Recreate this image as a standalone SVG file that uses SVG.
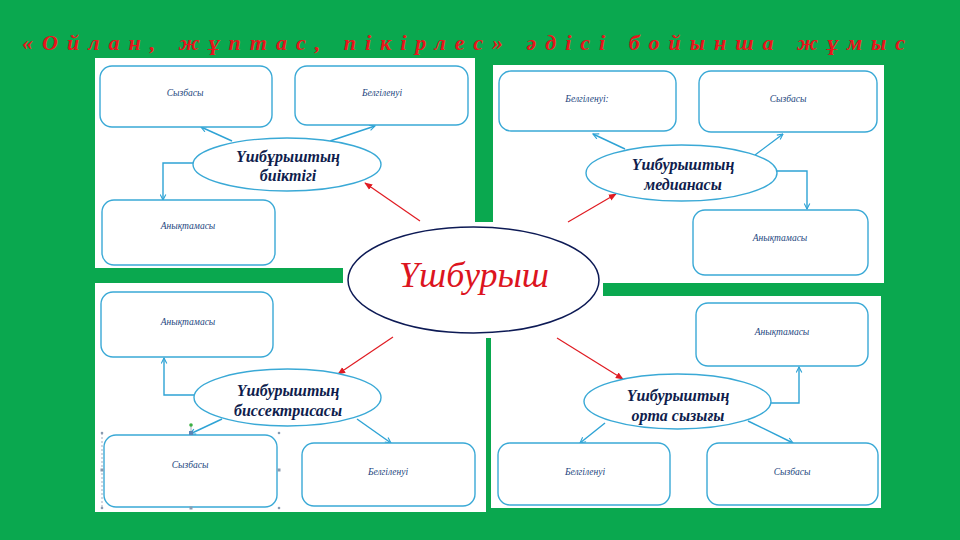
<svg xmlns="http://www.w3.org/2000/svg" width="960" height="540" viewBox="0 0 960 540">
<defs>
<style>
.panel{fill:#ffffff}
.box{fill:#ffffff;stroke:#3aa9d6;stroke-width:1.4}
.lbl{font-family:"Liberation Serif",serif;font-style:italic;font-size:9.5px;fill:#23467e;text-anchor:middle}
.oval{fill:#ffffff;stroke:#3aa9d6;stroke-width:1.4}
.otx{font-family:"Liberation Serif",serif;font-style:italic;font-weight:bold;font-size:16px;fill:#0f1d4d;text-anchor:middle}
.blue{fill:none;stroke:#2ea3d5;stroke-width:1.4;marker-end:url(#ab)}
.red{fill:none;stroke:#e01b22;stroke-width:1.2;marker-end:url(#ar)}
.hd{fill:#8a9bb0}
</style>
<marker id="ab" viewBox="0 0 10 10" refX="9" refY="5" markerWidth="7" markerHeight="7" orient="auto" markerUnits="userSpaceOnUse">
<path d="M1,1 L9,5 L1,9" fill="none" stroke="#2ea3d5" stroke-width="1.6"/>
</marker>
<marker id="ar" viewBox="0 0 10 10" refX="9" refY="5" markerWidth="8" markerHeight="8" orient="auto" markerUnits="userSpaceOnUse">
<path d="M0,1 L10,5 L0,9 Z" fill="#e01b22"/>
</marker>
</defs>
<rect width="960" height="540" fill="#0aa84f"/>
<text id="title" x="22" y="50" textLength="883" lengthAdjust="spacing" font-family="'Liberation Serif',serif" font-style="italic" font-weight="bold" font-size="22" fill="#e8141c">«Ойлан, жұптас, пікірлес» әдісі бойынша жұмыс</text>

<g id="panels">
<rect class="panel" x="95" y="58" width="380" height="210"/>
<rect class="panel" x="493" y="65" width="391" height="218"/>
<rect class="panel" x="95" y="283" width="391" height="229"/>
<rect class="panel" x="491" y="296" width="390" height="212"/>
<rect class="panel" x="343" y="222" width="260" height="116"/>
</g>

<g id="connectors">
<path class="blue" d="M232,141 L201,127"/>
<path class="blue" d="M330,141 L375,126"/>
<path class="blue" d="M193,163 L163,163 L163,200"/>
<path class="blue" d="M625,149 L593,134"/>
<path class="blue" d="M755,155 L783,134"/>
<path class="blue" d="M777,171 L807,171 L807,209"/>
<path class="blue" d="M194,395 L164,395 L164,358"/>
<path class="blue" d="M222,419 L190,434"/>
<path class="blue" d="M357,419 L391,443"/>
<path class="blue" d="M771,403 L799,403 L799,367"/>
<path class="blue" d="M605,423 L580,443"/>
<path class="blue" d="M748,421 L793,443"/>
<path class="red" d="M420,221 L365,183"/>
<path class="red" d="M568,222 L616,194"/>
<path class="red" d="M393,337 L338,374"/>
<path class="red" d="M557,338 L623,379"/>
</g>

<g id="tl-sizbasy"><rect class="box" x="100" y="66" width="172" height="61" rx="12"/><text class="lbl" x="185" y="96">Сызбасы</text></g>
<g id="tl-belgilenui"><rect class="box" x="295" y="66" width="173" height="59" rx="12"/><text class="lbl" x="382" y="96">Белгіленуі</text></g>
<g id="tl-anyktamasy"><rect class="box" x="102" y="200" width="173" height="65" rx="12"/><text class="lbl" x="188" y="229">Анықтамасы</text></g>
<g id="tl-oval"><ellipse class="oval" cx="287" cy="164.5" rx="94" ry="26.5"/><text class="otx" x="288" y="162">Үшбұрыштың</text><text class="otx" x="288" y="181">биіктігі</text></g>

<g id="tr-belgilenui"><rect class="box" x="499" y="71" width="177" height="60" rx="12"/><text class="lbl" x="587" y="102">Белгіленуі:</text></g>
<g id="tr-sizbasy"><rect class="box" x="699" y="71" width="178" height="61" rx="12"/><text class="lbl" x="788" y="102">Сызбасы</text></g>
<g id="tr-anyktamasy"><rect class="box" x="693" y="210" width="175" height="65" rx="12"/><text class="lbl" x="780" y="241">Анықтамасы</text></g>
<g id="tr-oval"><ellipse class="oval" cx="681.5" cy="173" rx="95.5" ry="28"/><text class="otx" x="683" y="170">Үшбурыштың</text><text class="otx" x="683" y="190">медианасы</text></g>

<g id="bl-anyktamasy"><rect class="box" x="101" y="292" width="172" height="65" rx="12"/><text class="lbl" x="188" y="325">Анықтамасы</text></g>
<g id="bl-sizbasy"><rect class="box" x="104" y="435" width="173" height="72" rx="12"/><text class="lbl" x="190" y="468">Сызбасы</text></g>
<g id="bl-belgilenui"><rect class="box" x="302" y="443" width="173" height="63" rx="12"/><text class="lbl" x="388" y="475">Белгіленуі</text></g>
<g id="bl-oval"><ellipse class="oval" cx="287.5" cy="397.5" rx="93.5" ry="28.5"/><text class="otx" x="288" y="396">Үшбурыштың</text><text class="otx" x="288" y="416">биссектрисасы</text></g>
<g id="bl-handles">
<line x1="102" y1="433" x2="102" y2="508" stroke="#8a9bb0" stroke-width="0.8" stroke-dasharray="2,2"/>
<line x1="191" y1="425" x2="191" y2="433" stroke="#8a9bb0" stroke-width="0.8"/>
<circle cx="191" cy="425" r="1.8" fill="#3cb043"/>
<rect x="189" y="431" width="4" height="4" fill="#5a86b8"/>
<circle class="hd" cx="102" cy="433" r="1.3"/><circle class="hd" cx="279" cy="433" r="1.3"/>
<circle class="hd" cx="102" cy="508" r="1.3"/><circle class="hd" cx="279" cy="508" r="1.3"/>
<rect class="hd" x="100.5" y="468.5" width="3" height="3"/><rect class="hd" x="277.5" y="468.5" width="3" height="3"/>
<rect class="hd" x="189.5" y="506.5" width="3" height="3"/>
</g>

<g id="br-anyktamasy"><rect class="box" x="696" y="303" width="172" height="63" rx="12"/><text class="lbl" x="782" y="335">Анықтамасы</text></g>
<g id="br-belgilenui"><rect class="box" x="498" y="443" width="172" height="62" rx="12"/><text class="lbl" x="585" y="475">Белгіленуі</text></g>
<g id="br-sizbasy"><rect class="box" x="707" y="443" width="171" height="62" rx="12"/><text class="lbl" x="792" y="475">Сызбасы</text></g>
<g id="br-oval"><ellipse class="oval" cx="677.5" cy="401.5" rx="93.5" ry="27.5"/><text class="otx" x="678" y="401">Үшбурыштың</text><text class="otx" x="678" y="421">орта сызығы</text></g>

<g id="center"><ellipse cx="473.5" cy="280" rx="125.5" ry="53" fill="#ffffff" stroke="#0d1a55" stroke-width="1.5"/><text x="474" y="287" text-anchor="middle" font-family="'Liberation Serif',serif" font-style="italic" font-size="36" fill="#dc1420">Үшбурыш</text></g>
</svg>
